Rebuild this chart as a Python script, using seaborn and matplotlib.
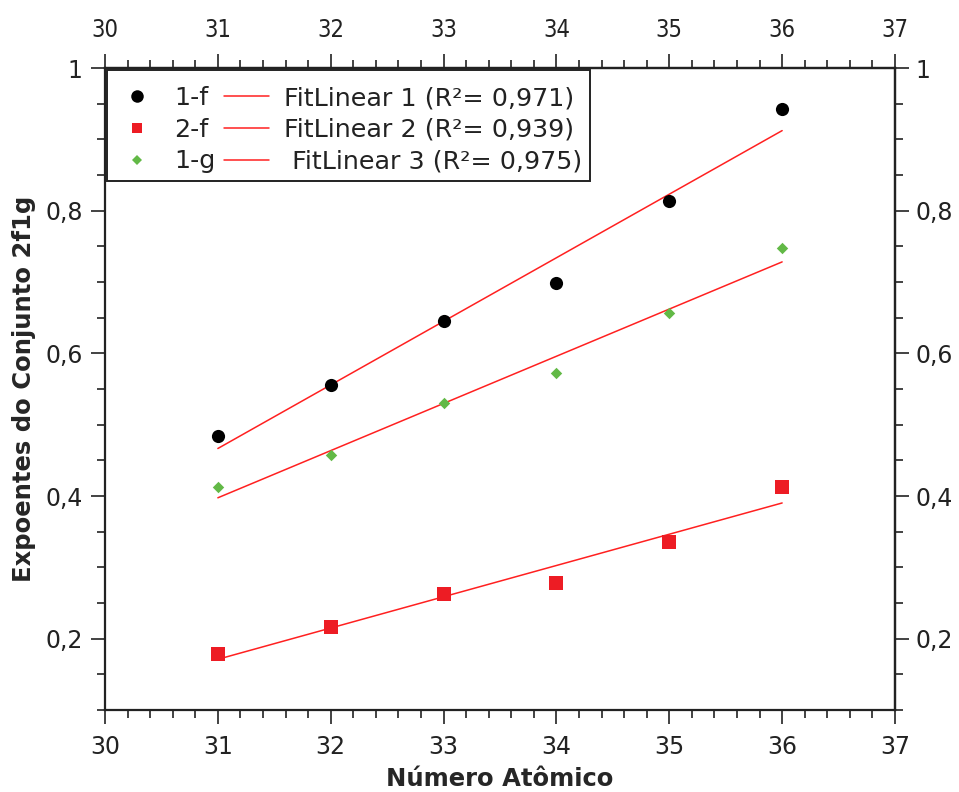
import numpy as np
import pandas as pd
import matplotlib
matplotlib.use("Agg")
import matplotlib.pyplot as plt
from matplotlib.ticker import MultipleLocator, FixedLocator, FixedFormatter
from matplotlib.lines import Line2D
import seaborn as sns

# ---- data ----
atomic_number = [31, 32, 33, 34, 35, 36]
exp_1f = [0.4835, 0.555, 0.645, 0.698, 0.813, 0.942]
exp_2f = [0.179, 0.217, 0.263, 0.278, 0.335, 0.412]
exp_1g = [0.412, 0.458, 0.530, 0.573, 0.657, 0.747]
series_names = ["1-f", "2-f", "1-g"]
fit_labels = ["FitLinear 1 (R²= 0,971)", "FitLinear 2 (R²= 0,939)", " FitLinear 3 (R²= 0,975)"]
x_ticks = [30, 31, 32, 33, 34, 35, 36, 37]
x_tick_labels = ["30", "31", "32", "33", "34", "35", "36", "37"]
y_ticks = [0.2, 0.4, 0.6, 0.8, 1.0]
y_tick_labels = ["0,2", "0,4", "0,6", "0,8", "1"]

sns.set_style("ticks")
plt.rcParams["font.family"] = ["DejaVu Sans"]

colors = {"1-f": "#000000", "2-f": "#ed1c24", "1-g": "#62b946"}
markers = {"1-f": "o", "2-f": "s", "1-g": "D"}
sizes = {"1-f": 90, "2-f": 95, "1-g": 34}

df = pd.DataFrame({
    "x": atomic_number * 3,
    "y": exp_1f + exp_2f + exp_1g,
    "series": sum([[n] * len(atomic_number) for n in series_names], []),
})

fig = plt.figure(figsize=(9.59, 7.92), dpi=100)
ax = fig.add_axes([105 / 959, 1 - 710 / 792, 790 / 959, 642 / 792])

fit_color = "#ff2020"
fit_handles = []
for name, ys in zip(series_names, [exp_1f, exp_2f, exp_1g]):
    k, b = np.polyfit(atomic_number, ys, 1)
    fit_df = pd.DataFrame({"x": atomic_number, "y": np.polyval([k, b], atomic_number)})
    sns.lineplot(data=fit_df, x="x", y="y", ax=ax, color=fit_color, lw=1.1, zorder=2)

point_handles = []
for name in series_names:
    sub = df[df.series == name]
    sns.scatterplot(data=sub, x="x", y="y", ax=ax, color=colors[name], marker=markers[name],
                    s=sizes[name], linewidth=0, zorder=3)
    point_handles.append(Line2D([], [], ls="none", marker=markers[name], color=colors[name],
                                markersize={"1-f": 9, "2-f": 7.5, "1-g": 5}[name], markeredgewidth=0))
for lbl in fit_labels:
    fit_handles.append(Line2D([], [], color=fit_color, lw=1.1))

ax.set_xlim(30, 37)
ax.set_ylim(0.1, 1.0)
ax.xaxis.set_major_locator(FixedLocator(x_ticks))
ax.xaxis.set_major_formatter(FixedFormatter(x_tick_labels))
ax.xaxis.set_minor_locator(MultipleLocator(0.2))
ax.yaxis.set_major_locator(FixedLocator(y_ticks))
ax.yaxis.set_major_formatter(FixedFormatter(y_tick_labels))
ax.yaxis.set_minor_locator(MultipleLocator(0.05))

for sp in ax.spines.values():
    sp.set_linewidth(1.6)
    sp.set_color("#222222")
    sp.set_visible(True)

ax.tick_params(axis="both", which="major", direction="out", length=10, width=1.2,
               labelsize=17, color="#222222", labelcolor="#222222")
ax.tick_params(axis="both", which="minor", direction="out", length=6, width=1.2, color="#222222")
ax.tick_params(axis="x", which="major", pad=8)
ax.tick_params(axis="y", which="major", pad=6)

ax.set_xlabel("Número Atômico", fontsize=17.5, fontweight="bold", labelpad=6)
ax.set_ylabel("Expoentes do Conjunto 2f1g", fontsize=17.5, fontweight="bold", labelpad=7)

# top axis
secx = ax.secondary_xaxis("top")
secx.xaxis.set_major_locator(FixedLocator(x_ticks))
secx.xaxis.set_major_formatter(FixedFormatter(x_tick_labels))
secx.xaxis.set_minor_locator(MultipleLocator(0.2))
secx.tick_params(axis="x", which="major", direction="out", length=10, width=1.2, labelsize=17,
                 pad=9, color="#222222", labelcolor="#222222")
secx.tick_params(axis="x", which="minor", direction="out", length=6, width=1.2, color="#222222")
for t in secx.get_xticklabels():
    t.set_fontstretch("condensed")
secx.spines["top"].set_linewidth(1.6)

# right axis
secy = ax.secondary_yaxis("right")
secy.yaxis.set_major_locator(FixedLocator(y_ticks))
secy.yaxis.set_major_formatter(FixedFormatter(y_tick_labels))
secy.yaxis.set_minor_locator(MultipleLocator(0.05))
secy.tick_params(axis="y", which="major", direction="out", length=10, width=1.2, labelsize=17,
                 pad=5, color="#222222", labelcolor="#222222")
secy.tick_params(axis="y", which="minor", direction="out", length=6, width=1.2, color="#222222")
secy.spines["right"].set_linewidth(1.6)

leg = ax.legend(point_handles + fit_handles, series_names + fit_labels, ncol=2,
                loc="upper left", bbox_to_anchor=(0.0025, 0.997), borderaxespad=0,
                fontsize=18.3, frameon=True, fancybox=False, framealpha=1,
                edgecolor="#222222", handlelength=1.75, handletextpad=0.6,
                columnspacing=0.35, labelspacing=0.3, borderpad=0.3,
                title=" ", title_fontsize=1)
leg.get_frame().set_linewidth(1.4)
for t in leg.get_texts():
    t.set_color("#222222")

fig.savefig("out.png", dpi=100)
